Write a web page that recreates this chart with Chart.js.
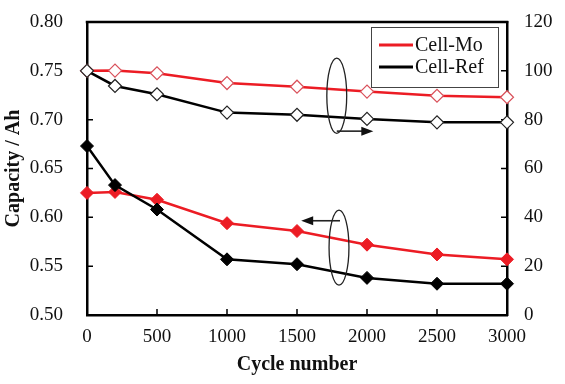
<!DOCTYPE html>
<html>
<head>
<meta charset="utf-8">
<script src="https://cdn.jsdelivr.net/npm/chart.js@4.4.1/dist/chart.umd.min.js"></script>
<style>
    html, body { margin: 0; padding: 0; background: #fff; }
    #wrap { width: 565px; height: 384px; }
</style>
</head>
<body>
<div id="wrap"><canvas id="capacityChart" width="565" height="384"></canvas></div>
<script>

const cycles = [0, 200, 500, 1000, 1500, 2000, 2500, 3000];

const capacityMo = [0.625, 0.626, 0.618, 0.594, 0.586, 0.572, 0.562, 0.557];
const capacityRef = [0.673, 0.633, 0.608, 0.557, 0.552, 0.538, 0.532, 0.532];

const retentionMo = [100, 100.1, 99.0, 95.0, 93.5, 91.5, 89.8, 89.2];
const retentionRef = [100, 93.8, 90.4, 82.9, 82.0, 80.3, 78.9, 78.9];

const seriesNames = ["Cell-Mo", "Cell-Ref"];

const RED = "#ec1c24";
const BLACK = "#000000";
const SERIF = "'Liberation Serif', 'Times New Roman', serif";

function toPoints(ys) {
    return cycles.map((c, i) => ({ x: c, y: ys[i] }));
}

// invisible outer tick marks, used only to space the labels away from the axis
function gap(len) {
    return {
        display: true,
        drawOnChartArea: false,
        drawTicks: true,
        tickLength: len,
        color: "rgba(0,0,0,0)",
        tickColor: "rgba(0,0,0,0)"
    };
}

// inward tick marks + top frame line
const framePlugin = {
    id: "frame",
    beforeDatasetsDraw(chart) {
        const { ctx, chartArea: a, scales } = chart;
        ctx.save();
        ctx.strokeStyle = BLACK;
        ctx.lineWidth = 2.5;
        ctx.beginPath();
        ctx.moveTo(a.left - 1.25, a.top);
        ctx.lineTo(a.right + 1.25, a.top);
        ctx.stroke();

        ctx.lineWidth = 1.5;
        ctx.beginPath();
        scales.x.ticks.forEach(t => {
            const px = scales.x.getPixelForValue(t.value);
            ctx.moveTo(px, a.bottom);
            ctx.lineTo(px, a.bottom - 6);
        });
        scales.y.ticks.forEach(t => {
            const py = scales.y.getPixelForValue(t.value);
            ctx.moveTo(a.left, py);
            ctx.lineTo(a.left + 6, py);
        });
        scales.y1.ticks.forEach(t => {
            const py = scales.y1.getPixelForValue(t.value);
            ctx.moveTo(a.right, py);
            ctx.lineTo(a.right - 6, py);
        });
        ctx.stroke();
        ctx.restore();
    }
};

function drawArrow(ctx, x0, y0, x1, y1) {
    const dir = Math.sign(x1 - x0);
    ctx.beginPath();
    ctx.moveTo(x0, y0);
    ctx.lineTo(x1 - dir * 8, y1);
    ctx.stroke();
    ctx.beginPath();
    ctx.moveTo(x1, y1);
    ctx.lineTo(x1 - dir * 12, y1 - 4.5);
    ctx.lineTo(x1 - dir * 12, y1 + 4.5);
    ctx.closePath();
    ctx.fill();
}

// ellipses with arrows pointing to the matching axis, and the boxed legend
const notesPlugin = {
    id: "notes",
    afterDraw(chart) {
        const { ctx, chartArea: a, scales } = chart;
        const sx = scales.x, sy = scales.y, sr = scales.y1;
        ctx.save();
        ctx.strokeStyle = "#222";
        ctx.fillStyle = "#111";
        ctx.lineWidth = 1.3;

        // retention group -> right axis
        let cx = sx.getPixelForValue(1784);
        let cy = sr.getPixelForValue(89.8);
        let rx = sx.getPixelForValue(1784 + 71) - cx;
        let ry = sr.getPixelForValue(89.8) - sr.getPixelForValue(89.8 + 15.4);
        ctx.beginPath();
        ctx.ellipse(cx, cy, rx, ry, 0, 0, Math.PI * 2);
        ctx.stroke();
        ctx.lineWidth = 1.6;
        drawArrow(ctx, cx, sr.getPixelForValue(75.3),
            sx.getPixelForValue(2045), sr.getPixelForValue(75.3));

        // capacity group -> left axis
        ctx.lineWidth = 1.3;
        cx = sx.getPixelForValue(1800);
        cy = sy.getPixelForValue(0.569);
        rx = sx.getPixelForValue(1800 + 71) - cx;
        ry = sy.getPixelForValue(0.569) - sy.getPixelForValue(0.569 + 0.0384);
        ctx.beginPath();
        ctx.ellipse(cx, cy, rx, ry, 0, 0, Math.PI * 2);
        ctx.stroke();
        ctx.lineWidth = 1.6;
        drawArrow(ctx, sx.getPixelForValue(1807), sy.getPixelForValue(0.5965),
            sx.getPixelForValue(1530), sy.getPixelForValue(0.5965));

        // legend
        const bx = a.right - 136, by = a.top + 5, bw = 127, bh = 60;
        ctx.fillStyle = "#fff";
        ctx.fillRect(bx, by, bw, bh);
        ctx.strokeStyle = "#444";
        ctx.lineWidth = 1;
        ctx.strokeRect(bx + 0.5, by + 0.5, bw, bh);

        const colors = [RED, BLACK];
        ctx.font = "20px " + SERIF;
        ctx.textBaseline = "middle";
        ctx.textAlign = "left";
        seriesNames.forEach((name, i) => {
            const ly = by + 18 + i * 22;
            ctx.strokeStyle = colors[i];
            ctx.lineWidth = 3;
            ctx.beginPath();
            ctx.moveTo(bx + 8, ly);
            ctx.lineTo(bx + 42, ly);
            ctx.stroke();
            ctx.fillStyle = "#111";
            ctx.fillText(name, bx + 44, ly + 1);
        });
        ctx.restore();
    }
};

const ctx = document.getElementById("capacityChart");

const chart = new Chart(ctx, {

    type: "line",

    data: {
        datasets: [
            {
                label: seriesNames[1] + " retention",
                data: toPoints(retentionRef),
                yAxisID: "y1",
                borderColor: BLACK,
                borderWidth: 2.5,
                pointStyle: "rectRot",
                pointRadius: 6.5,
                pointBackgroundColor: "#fff",
                pointBorderColor: "#222",
                pointBorderWidth: 1.2
            },
            {
                label: seriesNames[1],
                data: toPoints(capacityRef),
                yAxisID: "y",
                borderColor: BLACK,
                borderWidth: 2.5,
                pointStyle: "rectRot",
                pointRadius: 6.5,
                pointBackgroundColor: BLACK,
                pointBorderColor: BLACK,
                pointBorderWidth: 1
            },
            {
                label: seriesNames[0] + " retention",
                data: toPoints(retentionMo),
                yAxisID: "y1",
                borderColor: RED,
                borderWidth: 2.5,
                pointStyle: "rectRot",
                pointRadius: 6.5,
                pointBackgroundColor: "#fff",
                pointBorderColor: "#d9505a",
                pointBorderWidth: 1.2
            },
            {
                label: seriesNames[0],
                data: toPoints(capacityMo),
                yAxisID: "y",
                borderColor: RED,
                borderWidth: 2.5,
                pointStyle: "rectRot",
                pointRadius: 6.5,
                pointBackgroundColor: RED,
                pointBorderColor: RED,
                pointBorderWidth: 1
            }
        ]
    },

    options: {
        responsive: false,
        animation: false,
        devicePixelRatio: 1,
        clip: false,
        layout: {
            padding: { top: 22, left: 2, right: 0, bottom: 0 }
        },
        plugins: {
            legend: { display: false },
            tooltip: { enabled: false }
        },
        elements: {
            line: { tension: 0 }
        },
        scales: {
            x: {
                type: "linear",
                min: 0,
                max: 3000,
                grid: gap(11),
                border: { display: true, color: BLACK, width: 2.5 },
                ticks: {
                    stepSize: 500,
                    color: "#111",
                    padding: 0,
                    maxRotation: 0,
                    font: { family: SERIF, size: 19 },
                    callback: v => String(v)
                },
                title: {
                    display: true,
                    text: "Cycle number",
                    color: "#111",
                    padding: { top: 0, bottom: 7 },
                    font: { family: SERIF, size: 20, weight: "bold" }
                },
                afterFit(scale) { scale.height = 69; }
            },
            y: {
                position: "left",
                min: 0.5,
                max: 0.8,
                grid: gap(24),
                border: { display: true, color: BLACK, width: 2.5 },
                ticks: {
                    stepSize: 0.05,
                    color: "#111",
                    padding: 0,
                    font: { family: SERIF, size: 19 },
                    callback: v => v.toFixed(2)
                },
                title: {
                    display: true,
                    text: "Capacity / Ah",
                    color: "#111",
                    padding: { top: 0, bottom: 0 },
                    font: { family: SERIF, size: 20, weight: "bold" }
                },
                afterFit(scale) { scale.width = 85; }
            },
            y1: {
                position: "right",
                min: 0,
                max: 120,
                grid: gap(17),
                border: { display: true, color: BLACK, width: 2.5 },
                ticks: {
                    stepSize: 20,
                    color: "#111",
                    padding: 0,
                    font: { family: SERIF, size: 19 }
                },
                afterFit(scale) { scale.width = 58; }
            }
        }
    },

    plugins: [framePlugin, notesPlugin]

});

</script>
</body>
</html>
